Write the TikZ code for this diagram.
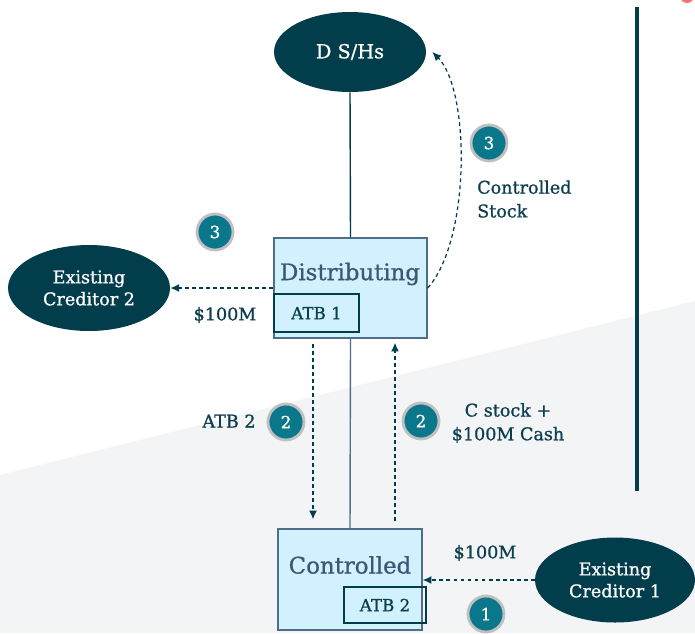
\documentclass[tikz,border=0pt]{standalone}
\usepackage{fontspec}
\setmainfont{DejaVu Serif}[BoldFont={DejaVu Serif}, BoldFeatures={FakeBold=0.9}]
\usetikzlibrary{shapes.geometric, arrows.meta}
\definecolor{deepteal}{RGB}{2,61,76}
\definecolor{stepteal}{RGB}{10,120,138}
\definecolor{ringgray}{RGB}{192,192,192}
\definecolor{boxfill}{RGB}{208,241,253}
\definecolor{boxedge}{RGB}{80,111,134}
\definecolor{slatetext}{RGB}{59,87,117}
\definecolor{inktext}{RGB}{12,62,78}
\definecolor{bggray}{RGB}{243,244,246}

\begin{document}
\begin{tikzpicture}[x=0.02cm, y=-0.02cm,
    party/.style={ellipse, fill=deepteal, text=white, align=center, inner sep=0pt, font=\bfseries\fontsize{10}{12.5}\selectfont},
    entity/.style={rectangle, draw=boxedge, fill=boxfill, line width=0.8pt, inner sep=0pt},
    bigname/.style={text=slatetext, font=\bfseries\fontsize{13}{15}\selectfont},
    tag/.style={rectangle, draw=deepteal, line width=0.6pt, inner sep=0pt, text=inktext, font=\bfseries\fontsize{9.5}{11}\selectfont},
    stepnum/.style={circle, fill=stepteal, draw=ringgray, line width=1.6pt, minimum size=0.72cm, inner sep=0pt, text=white, font=\bfseries\fontsize{9.5}{11}\selectfont},
    flow/.style={dash pattern=on 2.2pt off 1.8pt, draw=deepteal, line width=0.7pt, -{Latex[length=5pt,width=4.5pt]}},
    link/.style={draw=boxedge, line width=0.8pt},
    note/.style={text=inktext, font=\bfseries\fontsize{10}{13.5}\selectfont}]
        \fill[white] (0,0) rectangle (695,633);
        \fill[bggray] (0,475) -- (695,301) -- (695,633) -- (0,633) -- cycle;
        \useasboundingbox (0,0) rectangle (695,633);
        \fill[red!55] (687,-4) circle (7);
        \draw[deepteal, line width=2.3pt] (637,7) -- (637,491);

        \node[party, minimum width=3.04cm, minimum height=1.6cm] (dsh) at (350,52) {\fontsize{11}{13}\selectfont D S/Hs};
        \node[party, minimum width=3.24cm, minimum height=1.72cm] (cred2) at (89,288) {Existing\\Creditor 2};
        \node[party, minimum width=3.2cm, minimum height=1.7cm] (cred1) at (615,580) {Existing\\Creditor 1};

        \node[entity, minimum width=3.06cm, minimum height=2cm] (dist) at (350.5,288) {};
        \node[entity, minimum width=2.88cm, minimum height=2.02cm] (ctrl) at (350,579.5) {};
        \node[tag, minimum width=1.7cm, minimum height=0.76cm] (atb1) at (316.5,313) {ATB 1};
        \node[tag, minimum width=1.64cm, minimum height=0.72cm] (atb2) at (385,605) {ATB 2};
        \node[bigname] (distname) at (350,274) {Distributing};
        \node[bigname] (ctrlname) at (350,565) {Controlled};

        \draw[link, draw=deepteal] (dsh.south) -- (dist.north);
        \draw[link] (dist.south) -- (ctrl.north);

        \coordinate (leftcol) at (313,0);
        \coordinate (rightcol) at (395,0);
        \draw[flow, shorten <=0.1cm, shorten >=0.18cm] (dist.south -| leftcol) -- (ctrl.north -| leftcol);
        \draw[flow, shorten <=0.14cm, shorten >=0.08cm] (ctrl.north -| rightcol) -- (dist.south -| rightcol);
        \draw[flow] (dist.west) -- (cred2.east);
        \draw[flow] (cred1.west) -- (cred1.west -| ctrl.east);
        \draw[flow] (dist.east) .. controls +(43,-48) and +(38,38) .. ([xshift=0.12cm]dsh.east);

        \node[stepnum] (s3left) at (215,232) {3};
        \node[stepnum] (s3right) at (489,143) {3};
        \node[stepnum] (s2left) at (286,422) {2};
        \node[stepnum] (s2right) at (421,421) {2};
        \node[stepnum] (s1) at (486,614) {1};

        \node[note] (amt2) at (225,315) {\$100M};
        \node[note, anchor=west, align=left] (ctrlstock) at (471,199) {Controlled\\Stock};
        \node[note] (atbleft) at (229,421) {ATB 2};
        \node[note, align=center] (cash) at (508,423) {C stock +\\\$100M Cash};
        \node[note] (amt1) at (485,553) {\$100M};
      \end{tikzpicture}
\end{document}
